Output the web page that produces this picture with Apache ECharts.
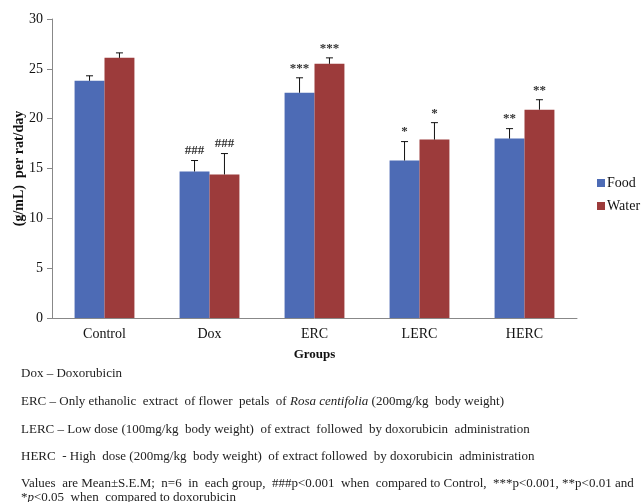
<!DOCTYPE html>
<html>
<head>
<meta charset="utf-8">
<script src="https://cdn.jsdelivr.net/npm/echarts@6/dist/echarts.min.js"></script>
<style>
  html, body { margin: 0; padding: 0; background: #fff; }
  #main { width: 642px; height: 502px; }
</style>
</head>
<body>
<div id="main"></div>
<script>
// data
const categories = ["Control", "Dox", "ERC", "LERC", "HERC"];
const foodMean = [23.8, 14.7, 22.6, 15.8, 18.0];
const foodSem = [0.5, 1.1, 1.5, 1.9, 1.0];
const waterMean = [26.1, 14.4, 25.5, 17.9, 20.9];
const waterSem = [0.5, 2.1, 0.6, 1.7, 1.0];
const foodSig = ["", "###", "***", "*", "**"];
const waterSig = ["", "###", "***", "*", "**"];
const yTicks = [0, 5, 10, 15, 20, 25, 30];

const footnotes = [
  "Dox – Doxorubicin",
  "ERC – Only ethanolic  extract  of flower  petals  of {i|Rosa centifolia} (200mg/kg  body weight)",
  "LERC – Low dose (100mg/kg  body weight)  of extract  followed  by doxorubicin  administration",
  "HERC  - High  dose (200mg/kg  body weight)  of extract followed  by doxorubicin  administration",
  "Values  are Mean±S.E.M;  n=6  in  each group,  ###p<0.001  when  compared to Control,  ***p<0.001, **p<0.01 and",
  "*{i|p}<0.05  when  compared to doxorubicin"
];
const footY = [373, 401, 429, 456, 483, 497];

const serif = "'Liberation Serif', 'Times New Roman', serif";
const blue = "#4d6bb5";
const red = "#9c3b3b";
const gap = 0.43;

// error bar + significance marks, side -1 food, +1 water
function errSeries(name, means, sems, sigs, side) {
  return {
    type: "custom",
    name: name + "_err",
    z: 5,
    data: means.map((m, i) => [i, m, m + sems[i], sigs[i]]),
    renderItem: function (params, api) {
      const band = api.size([1, 0])[0];
      const group = band * (1 - gap);
      const base = api.coord([api.value(0), api.value(1)]);
      const top = api.coord([api.value(0), api.value(2)]);
      const x = base[0] + side * group / 4;
      const cap = 3.5;
      const line = { stroke: "#111", lineWidth: 1 };
      return {
        type: "group",
        children: [
          { type: "line", shape: { x1: x, y1: base[1], x2: x, y2: top[1] }, style: line },
          { type: "line", shape: { x1: x - cap, y1: top[1], x2: x + cap, y2: top[1] }, style: line },
          {
            type: "text",
            style: {
              text: api.value(3),
              x: x,
              y: top[1] - 3,
              align: "center",
              verticalAlign: "bottom",
              fill: "#333",
              font: "bold 13px " + serif
            }
          }
        ]
      };
    }
  };
}

const chart = echarts.init(document.getElementById("main"));
chart.setOption({
  backgroundColor: "#fff",
  animation: false,
  grid: { left: 52, right: 65, top: 19, bottom: 184 },
  legend: {
    orient: "vertical",
    left: 592,
    top: 171,
    icon: "rect",
    itemWidth: 8,
    itemHeight: 8,
    itemGap: 9,
    data: ["Food", "Water"],
    textStyle: { fontFamily: serif, fontSize: 14, color: "#111", padding: [0, 0, 0, -3] }
  },
  xAxis: {
    type: "category",
    data: categories,
    name: "Groups",
    nameLocation: "middle",
    nameGap: 30,
    nameTextStyle: { fontFamily: serif, fontSize: 13, fontWeight: "bold", color: "#111" },
    axisLine: { lineStyle: { color: "#888" } },
    axisTick: { length: 5, lineStyle: { color: "#888" } },
    axisLabel: { fontFamily: serif, fontSize: 14, color: "#111", margin: 9 }
  },
  yAxis: {
    type: "value",
    min: yTicks[0],
    max: yTicks[yTicks.length - 1],
    interval: 5,
    name: "(g/mL)  per rat/day",
    nameLocation: "middle",
    nameGap: 26,
    nameMoveOverlap: false,
    nameTextStyle: { fontFamily: serif, fontSize: 14, fontWeight: "bold", color: "#111" },
    axisLine: { show: true, lineStyle: { color: "#888" } },
    axisTick: { show: true, length: 5, lineStyle: { color: "#888" } },
    splitLine: { show: false },
    axisLabel: { fontFamily: serif, fontSize: 14, color: "#111", margin: 9 }
  },
  series: [
    { name: "Food", type: "bar", data: foodMean, itemStyle: { color: blue }, barGap: "0%", barCategoryGap: "43%" },
    { name: "Water", type: "bar", data: waterMean, itemStyle: { color: red }, barGap: "0%", barCategoryGap: "43%" },
    errSeries("Food", foodMean, foodSem, foodSig, -1),
    errSeries("Water", waterMean, waterSem, waterSig, 1)
  ],
  graphic: footnotes.map((t, i) => ({
    type: "text",
    left: 21,
    top: footY[i] - 6,
    style: {
      text: t,
      font: "13px " + serif,
      fill: "#222",
      rich: { i: { fontStyle: "italic", fontFamily: serif, fontSize: 13, fill: "#222" } }
    }
  }))
});
</script>
</body>
</html>
